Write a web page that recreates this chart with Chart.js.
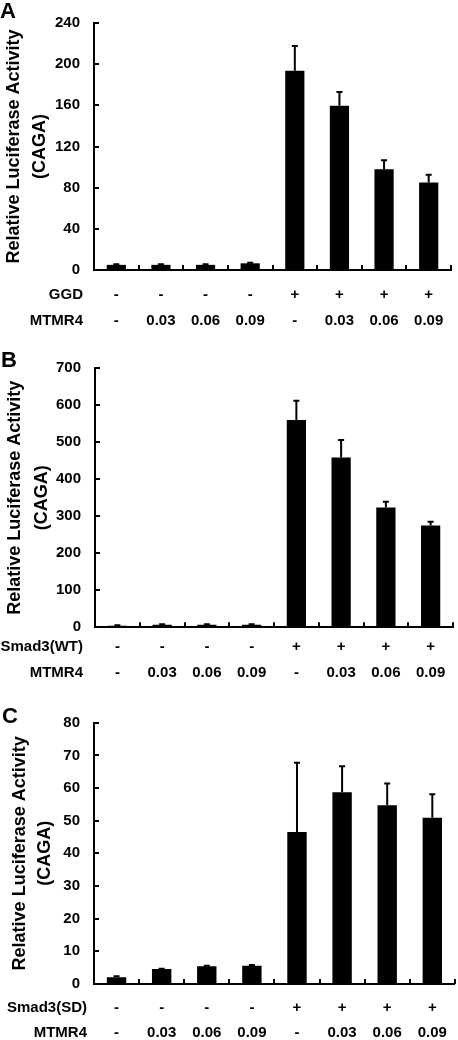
<!DOCTYPE html>
<html><head><meta charset="utf-8">
<script src="https://cdn.jsdelivr.net/npm/chart.js@4.4.1/dist/chart.umd.min.js"></script>
<style>
html,body{margin:0;padding:0;background:#fff;width:458px;height:1040px;overflow:hidden;}
canvas{position:absolute;left:0;}
</style></head><body>
<canvas id="cA" width="458" height="340" style="top:0px"></canvas>
<canvas id="cB" width="458" height="350" style="top:340px"></canvas>
<canvas id="cC" width="458" height="350" style="top:690px"></canvas>
<script>
// ---- data ----
const treatLabels = ['-', '-', '-', '-', '+', '+', '+', '+'];
const mtmr4Labels = ['-', '0.03', '0.06', '0.09', '-', '0.03', '0.06', '0.09'];
const rowLabelsA = ['GGD', 'MTMR4'];
const rowLabelsB = ['Smad3(WT)', 'MTMR4'];
const rowLabelsC = ['Smad3(SD)', 'MTMR4'];
const valuesA = [5, 5, 5, 6.5, 193.6, 159.7, 97.8, 85.1];
const errorsA = [0.6, 0.5, 0.5, 0.5, 24.1, 13.3, 8.9, 7.4];
const valuesB = [4, 7, 7, 7, 560, 459, 324, 275];
const errorsB = [1.5, 1.5, 1.5, 1.5, 52, 47, 15, 10];
const valuesC = [2.1, 4.6, 5.4, 5.6, 46.5, 58.7, 54.7, 50.9];
const errorsC = [0.3, 0.1, 0.2, 0.2, 21.2, 8.0, 6.7, 7.2];
const yMaxA = 240, yStepA = 40;
const yMaxB = 700, yStepB = 100;
const yMaxC = 80, yStepC = 10;
const yTitle = ['Relative Luciferase Activity', '(CAGA)'];

const FONT = '"Liberation Sans", Arial, Helvetica, sans-serif';

const errorBarPlugin = {
  id: 'errorBars',
  afterDatasetsDraw(chart, args, o) {
    const meta = chart.getDatasetMeta(0);
    const ys = chart.scales.y;
    const data = chart.data.datasets[0].data;
    const ctx = chart.ctx;
    ctx.save();
    ctx.strokeStyle = '#000';
    ctx.lineWidth = 2;
    meta.data.forEach((bar, i) => {
      const top = ys.getPixelForValue(data[i] + o.errors[i]);
      ctx.beginPath();
      ctx.moveTo(bar.x, bar.y);
      ctx.lineTo(bar.x, top);
      ctx.moveTo(bar.x - 3, top);
      ctx.lineTo(bar.x + 3, top);
      ctx.stroke();
    });
    ctx.restore();
  }
};

// inward tick marks on both axes, placed from the scales
const innerTicksPlugin = {
  id: 'innerTicks',
  afterDraw(chart, args, o) {
    const ctx = chart.ctx;
    const xs = chart.scales.x, ys = chart.scales.y;
    const ca = chart.chartArea;
    ctx.save();
    ctx.strokeStyle = '#000';
    ctx.lineWidth = 2;
    ctx.beginPath();
    ys.ticks.forEach(t => {
      const y = Math.round(ys.getPixelForValue(t.value));
      ctx.moveTo(ca.left, y);
      ctx.lineTo(ca.left + o.len, y);
    });
    const n = xs.ticks.length;
    for (let i = 1; i <= n; i++) {
      const x = i < n ? (xs.getPixelForTick(i - 1) + xs.getPixelForTick(i)) / 2 : ca.right;
      ctx.moveTo(Math.round(x), ca.bottom);
      ctx.lineTo(Math.round(x), ca.bottom - o.len);
    }
    ctx.stroke();
    ctx.restore();
  }
};

const panelTextPlugin = {
  id: 'panelText',
  afterDraw(chart, args, o) {
    const ctx = chart.ctx;
    const xs = chart.scales.x;
    ctx.save();
    ctx.fillStyle = '#000';
    ctx.font = 'bold 22px ' + FONT;
    ctx.textAlign = 'left';
    ctx.textBaseline = 'alphabetic';
    ctx.fillText(o.letter, o.letterX, o.letterY);
    ctx.font = 'bold 15px ' + FONT;
    ctx.textAlign = 'right';
    ctx.textBaseline = 'middle';
    const lh = 15 * o.lineHeight;
    const y0 = xs.top + o.pad + lh / 2;
    o.rows.forEach((t, k) => ctx.fillText(t, o.rowX, y0 + k * lh));
    ctx.restore();
  }
};

function makePanel(id, values, errors, rows, yMax, yStep, L) {
  const labels = treatLabels.map((t, i) => [t, mtmr4Labels[i]]);
  return new Chart(document.getElementById(id), {
    type: 'bar',
    data: {
      labels: labels,
      datasets: [{
        data: values,
        backgroundColor: '#000',
        borderWidth: 0,
        barPercentage: 0.43,
        categoryPercentage: 1.0
      }]
    },
    options: {
      responsive: false,
      animation: false,
      devicePixelRatio: 1,
      layout: { padding: { top: L.top, right: L.right, left: 0, bottom: 0 } },
      plugins: {
        legend: { display: false },
        tooltip: { enabled: false },
        errorBars: { errors: errors },
        innerTicks: { len: 5 },
        panelText: {
          letter: L.letter, letterX: L.letterX, letterY: L.letterY,
          rows: rows, rowX: L.rowX, lineHeight: L.lh, pad: L.xpad
        }
      },
      scales: {
        x: {
          offset: true,
          afterFit: s => { s.height = L.xh; },
          grid: { offset: true, drawOnChartArea: false, drawTicks: false, color: '#000' },
          border: { display: true, color: '#000', width: 2 },
          ticks: {
            color: '#000', maxRotation: 0, minRotation: 0, autoSkip: false, padding: L.xpad,
            font: { family: FONT, size: 15, weight: 'bold', lineHeight: L.lh }
          }
        },
        y: {
          min: 0, max: yMax,
          afterFit: s => { s.width = L.yw; },
          grid: { drawOnChartArea: false, drawTicks: false, color: '#000' },
          border: { display: true, color: '#000', width: 2 },
          ticks: {
            stepSize: yStep, color: '#000', padding: 14,
            font: { family: FONT, size: 15, weight: 'bold' }
          },
          title: {
            display: true, text: yTitle, color: '#000',
            padding: { top: L.tpad, bottom: 0 },
            font: { family: FONT, size: 18, weight: 'bold', lineHeight: L.tlh }
          }
        }
      }
    },
    plugins: [errorBarPlugin, innerTicksPlugin, panelTextPlugin]
  });
}

makePanel('cA', valuesA, errorsA, rowLabelsA, yMaxA, yStepA, {
  top: 10.7, right: 7, yw: 94, xh: 70, xpad: 11.5, lh: 1.75,
  tpad: 1, tlh: 1.45, letter: 'A', letterX: 0, letterY: 18.3, rowX: 83
});
makePanel('cB', valuesB, errorsB, rowLabelsB, yMaxB, yStepB, {
  top: 28.3, right: 5, yw: 95, xh: 62.7, xpad: 6.4, lh: 1.76,
  tpad: 1.5, tlh: 1.5, letter: 'B', letterX: 1, letterY: 26.7, rowX: 83
});
makePanel('cC', valuesC, errorsC, rowLabelsC, yMaxC, yStepC, {
  top: 32.7, right: 3, yw: 94, xh: 56, xpad: 10.9, lh: 1.68,
  tpad: 7, tlh: 1.42, letter: 'C', letterX: 2, letterY: 33, rowX: 87
});
</script>
</body></html>
